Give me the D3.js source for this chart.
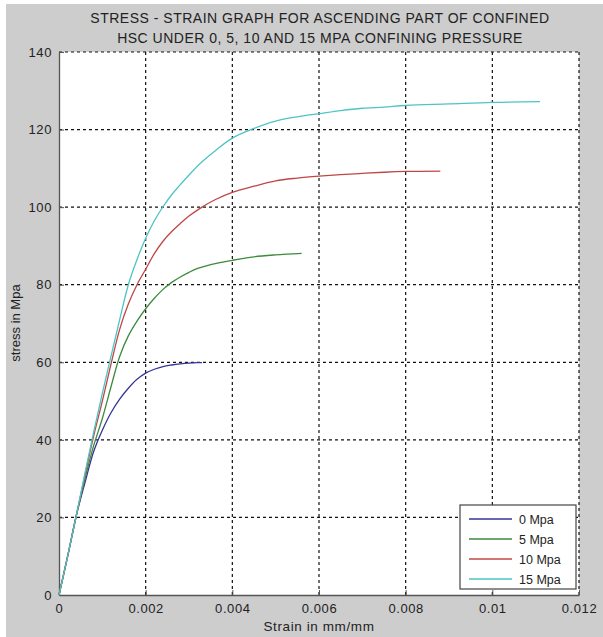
<!DOCTYPE html>
<html><head><meta charset="utf-8">
<script src="https://cdn.jsdelivr.net/npm/d3@7"></script>
<style>body{margin:0;background:#fff}svg{display:block}text{font-family:"Liberation Sans",Arial,sans-serif;fill:#222}</style>
</head><body><div id="c"></div>
<script>
const title1 = "STRESS - STRAIN GRAPH FOR ASCENDING PART OF CONFINED";
const title2 = "HSC UNDER 0, 5, 10 AND 15 MPA CONFINING PRESSURE";
const xLabel = "Strain in mm/mm";
const yLabel = "stress in Mpa";
const xTicks = [0, 0.002, 0.004, 0.006, 0.008, 0.01, 0.012];
const yTicks = [0, 20, 40, 60, 80, 100, 120, 140];
const seriesNames = ["0 Mpa", "5 Mpa", "10 Mpa", "15 Mpa"];
const seriesColors = ["#34349a", "#3c8a3c", "#c04646", "#4ec4c4"];

const strain0 = [0,0.0002,0.0004,0.0006,0.0008,0.001,0.0012,0.0014,0.0016,0.0018,0.002,0.0022,0.0024,0.0026,0.0028,0.003,0.0032,0.0033];
const stress0 = [0,10,20.5,29,37,42.5,47,50.5,53.3,55.6,57.2,58.2,58.9,59.3,59.6,59.8,59.9,59.9];

const strain5 = [0,0.0002,0.0004,0.0006,0.0008,0.001,0.0012,0.0014,0.0016,0.0018,0.002,0.0022,0.0024,0.0026,0.0028,0.003,0.0032,0.0035,0.004,0.0045,0.005,0.0056];
const stress5 = [0,10,20.5,30,38.5,45.5,53.7,61.5,66.8,70.6,73.8,76.5,78.8,80.6,82,83.2,84.2,85.2,86.3,87.2,87.7,88.1];

const strain10 = [0,0.0002,0.0004,0.0006,0.0008,0.001,0.0012,0.0014,0.0016,0.0018,0.002,0.0022,0.0024,0.0026,0.0028,0.003,0.0033,0.0036,0.004,0.0045,0.005,0.0055,0.006,0.0065,0.007,0.0075,0.008,0.0088];
const stress10 = [0,10,20.5,31,41,50,59.5,68.5,75,80,84,88,91.2,93.7,95.8,97.7,100,101.9,103.8,105.4,106.8,107.5,108,108.4,108.7,109,109.2,109.3];

const strain15 = [0,0.0002,0.0004,0.0006,0.0008,0.001,0.0012,0.0014,0.0016,0.0018,0.002,0.0022,0.0024,0.0026,0.0028,0.003,0.0033,0.0036,0.004,0.0045,0.005,0.0055,0.006,0.0065,0.007,0.0075,0.008,0.009,0.01,0.0111];
const stress15 = [0,10,20.5,31.5,42,52,61.5,71,80,86.5,92,96.5,100.1,103.2,105.8,108.3,111.7,114.5,117.8,120.3,122.2,123.3,124.1,124.9,125.5,125.8,126.2,126.6,127,127.2];

const strains = [strain0, strain5, strain10, strain15];
const stresses = [stress0, stress5, stress10, stress15];

const W = 603, H = 637;
const L = 59, R = 579, T = 52, B = 595;
const svg = d3.select("#c").append("svg").attr("width", W).attr("height", H);
svg.append("rect").attr("x",6).attr("y",4).attr("width",W-6).attr("height",H-4).attr("fill","#cdcdcd");
svg.append("rect").attr("x",L).attr("y",T).attr("width",R-L).attr("height",B-T).attr("fill","#fff");

const x = d3.scaleLinear().domain([0, 0.012]).range([L, R]);
const y = d3.scaleLinear().domain([0, 140]).range([B, T]);

// grid
const g = svg.append("g");
g.selectAll(".gx").data(xTicks.slice(1)).enter().append("line")
  .attr("x1", d=>x(d)).attr("x2", d=>x(d)).attr("y1", B).attr("y2", T)
  .attr("stroke","#111").attr("stroke-width",1.2).attr("stroke-dasharray","3,3");
g.selectAll(".gy").data(yTicks.slice(1)).enter().append("line")
  .attr("x1", L).attr("x2", R).attr("y1", d=>y(d)).attr("y2", d=>y(d))
  .attr("stroke","#111").attr("stroke-width",1.2).attr("stroke-dasharray","3,3");

// axes
const fmtX = d => d === 0 ? "0" : String(+d.toFixed(3));
const xAxis = d3.axisBottom(x).tickValues(xTicks).tickFormat(fmtX).tickSizeInner(-5).tickSizeOuter(0).tickPadding(9);
const yAxis = d3.axisLeft(y).tickValues(yTicks).tickFormat(d3.format("d")).tickSizeInner(-5).tickSizeOuter(0).tickPadding(7);
const gx = svg.append("g").attr("transform", `translate(0,${B})`).call(xAxis);
const gy = svg.append("g").attr("transform", `translate(${L},0)`).call(yAxis);
[gx, gy].forEach(a => {
  a.select(".domain").attr("stroke","#555").attr("stroke-width",1.3);
  a.selectAll(".tick line").attr("stroke","#555");
  a.selectAll(".tick text").attr("font-size",13).attr("letter-spacing","0.6px").attr("fill","#2a2a2a").attr("font-family","Liberation Sans, Arial, sans-serif");
});

// lines
const line = d3.line().x(d=>x(d[0])).y(d=>y(d[1])).curve(d3.curveCatmullRom.alpha(0.5));
strains.forEach((s,i) => {
  const pts = s.map((v,j)=>[v, stresses[i][j]]);
  svg.append("path").attr("d", line(pts)).attr("fill","none")
    .attr("stroke", seriesColors[i]).attr("stroke-width",1.3);
});

// titles
svg.append("text").attr("x",(L+R)/2+1).attr("y",23).attr("text-anchor","middle").attr("font-size",14).attr("letter-spacing","0.5px").text(title1);
svg.append("text").attr("x",(L+R)/2+1).attr("y",43).attr("text-anchor","middle").attr("font-size",14).attr("letter-spacing","0.5px").text(title2);
svg.append("text").attr("x",(L+R)/2).attr("y",631).attr("text-anchor","middle").attr("font-size",13.5).attr("letter-spacing","0.6px").text(xLabel);
svg.append("text").attr("transform","translate(20,323) rotate(-90)").attr("text-anchor","middle").attr("font-size",13).text(yLabel);

// legend
const lg = svg.append("g");
lg.append("rect").attr("x",460).attr("y",505).attr("width",116).attr("height",84)
  .attr("fill","#fff").attr("stroke","#444").attr("stroke-width",1.2);
seriesNames.forEach((n,i)=>{
  const yy = 519 + i*20;
  lg.append("line").attr("x1",469).attr("x2",512).attr("y1",yy).attr("y2",yy).attr("stroke",seriesColors[i]).attr("stroke-width",1.3);
  lg.append("text").attr("x",519).attr("y",yy+4.5).attr("font-size",12.5).text(n);
});
</script></body></html>
